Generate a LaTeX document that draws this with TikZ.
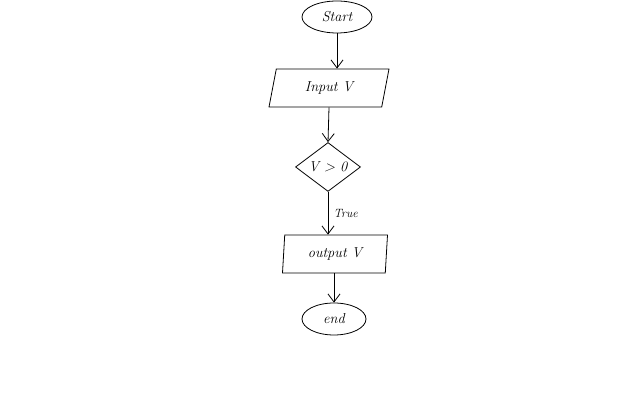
\documentclass[tikz,border=0pt]{standalone}
\usetikzlibrary{shapes.geometric,arrows.meta}
\begin{document}
\begin{tikzpicture}[x=1pt,y=1pt,
  every node/.style={font=\itshape\Large},
  term/.style={draw,ellipse,line width=0.8pt,inner sep=0pt},
  io/.style={draw,trapezium,trapezium left angle=60,trapezium right angle=120,trapezium stretches body,minimum width=120,minimum height=38,inner sep=0pt,line width=0.8pt},
  dec/.style={draw,diamond,minimum width=65,minimum height=47,inner sep=0pt,line width=0.8pt},
  flow/.style={-{Straight Barb[length=8pt,width=12pt]},line width=0.8pt}]
\useasboundingbox (0,0) rectangle (640,406);
\node[term,minimum width=70,minimum height=32] (start) at (337,389) {Start};
\node[io] (in) at (329,318) {Input V};
\node[dec] (d) at (328,239) {V > 0};
\node[io,minimum width=105,trapezium left angle=80,trapezium right angle=100] (out) at (335,152) {output V};
\node[term,minimum width=64,minimum height=32] (end) at (334,87) {end};
\draw[flow] (start) -- (start |- in.north);
\draw[flow] (in.south) -- (d.north);
\draw[flow] (d.south) -- node[right=2pt,font=\itshape\large]{True} (d.south |- out.north);
\draw[flow] (out.south -| end.north) -- (end.north);
\end{tikzpicture}
\end{document}
